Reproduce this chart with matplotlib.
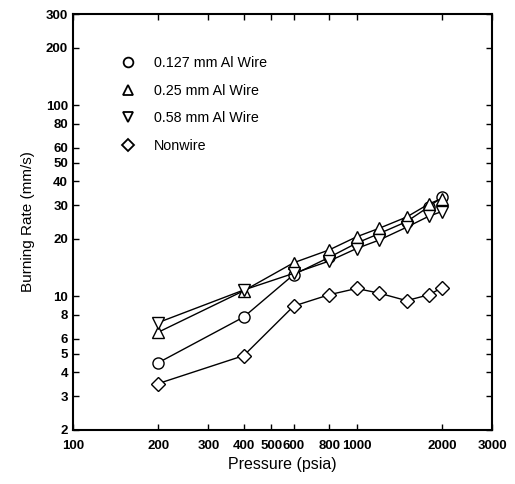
import matplotlib.pyplot as plt
from matplotlib.lines import Line2D
from matplotlib.ticker import FixedLocator, NullLocator, NullFormatter

plt.rcParams['font.family'] = ['Liberation Sans', 'DejaVu Sans']

pressure = [200, 400, 600, 800, 1000, 1200, 1500, 1800, 2000]
wire_127 = [4.5, 7.8, 13.0, 16.0, 19.0, 21.3, 24.6, 29.5, 33.0]
wire_25 = [6.5, 10.7, 15.0, 17.5, 20.5, 22.7, 26.0, 30.5, 32.5]
wire_58 = [7.3, 10.8, 13.2, 15.3, 17.8, 19.7, 23.0, 26.3, 27.8]
nonwire = [3.5, 4.9, 8.9, 10.2, 11.0, 10.4, 9.5, 10.2, 11.1]

series = [
    ('0.127 mm Al Wire', wire_127, 'o'),
    ('0.25 mm Al Wire', wire_25, '^'),
    ('0.58 mm Al Wire', wire_58, 'v'),
    ('Nonwire', nonwire, 'D'),
]

xticks = [100, 200, 300, 400, 500, 600, 800, 1000, 2000, 3000]
yticks = [2, 3, 4, 5, 6, 8, 10, 20, 30, 40, 50, 60, 80, 100, 200, 300]

fig = plt.figure(figsize=(5.15, 4.84), dpi=100)
ax = fig.add_axes([0.1417, 0.1116, 0.8136, 0.8594])

handles = []
for label, vals, m in series:
    ms = 7.5 if m == 'D' else 8
    ax.plot(pressure, vals, color='black', lw=1, marker=m, ms=ms,
            mfc='white', mec='black', mew=1)
    handles.append(Line2D([], [], ls='none', marker=m, ms=ms - 1,
                          mfc='white', mec='black', mew=1.3, label=label))

ax.set_xscale('log')
ax.set_yscale('log')
ax.set_xlim(100, 3000)
ax.set_ylim(2, 300)

ax.xaxis.set_major_locator(FixedLocator(xticks))
ax.yaxis.set_major_locator(FixedLocator(yticks))
ax.xaxis.set_minor_locator(NullLocator())
ax.yaxis.set_minor_locator(NullLocator())
ax.xaxis.set_minor_formatter(NullFormatter())
ax.yaxis.set_minor_formatter(NullFormatter())
ax.set_xticklabels([str(t) for t in xticks], fontweight='bold')
ax.set_yticklabels([str(t) for t in yticks], fontweight='bold')
ax.tick_params(which='both', direction='in', top=True, right=True,
               length=4, width=1, labelsize=9.5)
ax.tick_params(axis='x', pad=7)

for s in ax.spines.values():
    s.set_linewidth(1.5)

ax.set_xlabel('Pressure (psia)', fontsize=11.5, labelpad=4)
ax.set_ylabel('Burning Rate (mm/s)', fontsize=11, labelpad=8)

ax.legend(handles=handles, loc='upper left', bbox_to_anchor=(0.08, 0.93),
          frameon=False, fontsize=10.3, labelspacing=0.95, handlelength=1.2,
          handletextpad=1.2)

fig.savefig('out.png', dpi=100)
